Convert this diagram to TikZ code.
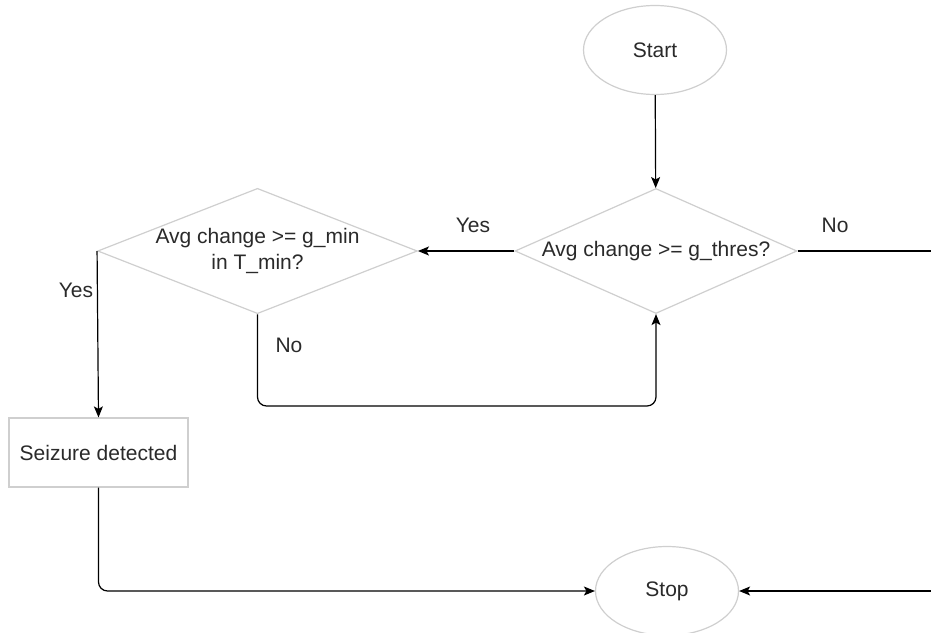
\documentclass[tikz,border=0pt]{standalone}
\usepackage{fontspec}
\setmainfont{Liberation Sans}
\usetikzlibrary{shapes.geometric,arrows.meta}
\definecolor{shapeline}{HTML}{CFCFCF}
\definecolor{inktext}{HTML}{2A2A2A}

\begin{document}
\begin{tikzpicture}
  [x=1pt,y=-1pt,line width=1.2pt,
   every node/.style={text=inktext,font=\fontsize{21}{26}\selectfont},
   base node/.style={draw=shapeline,fill=white,inner sep=0pt,align=center},
   term node/.style={base node,ellipse,minimum width=143pt,minimum height=89pt},
   test node/.style={base node,diamond,minimum height=125pt},
   act node/.style={base node,rectangle,minimum width=179pt,minimum height=69pt},
   flow/.style={draw=black,-{Stealth[length=11pt,width=9pt,inset=2.5pt]}},
   link/.style={draw=black,rounded corners=9pt}]
  \useasboundingbox (0,0) rectangle (931,632);

\node[term node] (start) at (655,50) {Start};
\node[test node, minimum width=282pt, aspect=2.25] (thres) at (656,251) {Avg change >= g\_thres?};
\node[test node, minimum width=319pt, aspect=2.55] (gmin) at (257.5,251) {Avg change >= g\_min\\in T\_min?};
\node[act node] (seizure) at (98.5,452.5) {Seizure detected};
\node[term node] (stop) at (667,591) {Stop};

\coordinate (offright) at (931,251);
\coordinate (backright) at (931,591);
\coordinate (loop) at (456,406);

  \draw[flow] (start) -- (thres);
  \draw[flow] (thres.west) -- (gmin.east);
  \draw (thres.east) -- (offright);
  \draw[flow] (gmin.west) -- (seizure.north);
  \draw[flow] (backright) -- (stop.east);

  \path
(gmin.south) edge [link,flow,to path={|- (loop) -| (\tikztotarget)}] (thres.south)
(seizure.south) edge [link,flow,to path={|- (\tikztotarget)}] (stop.west);

\node (yes a) at (473,225) {Yes};
\node (no a) at (835,225) {No};
\node (no b) at (289,345) {No};
\node (yes b) at (76,290) {Yes};

\end{tikzpicture}
\end{document}
